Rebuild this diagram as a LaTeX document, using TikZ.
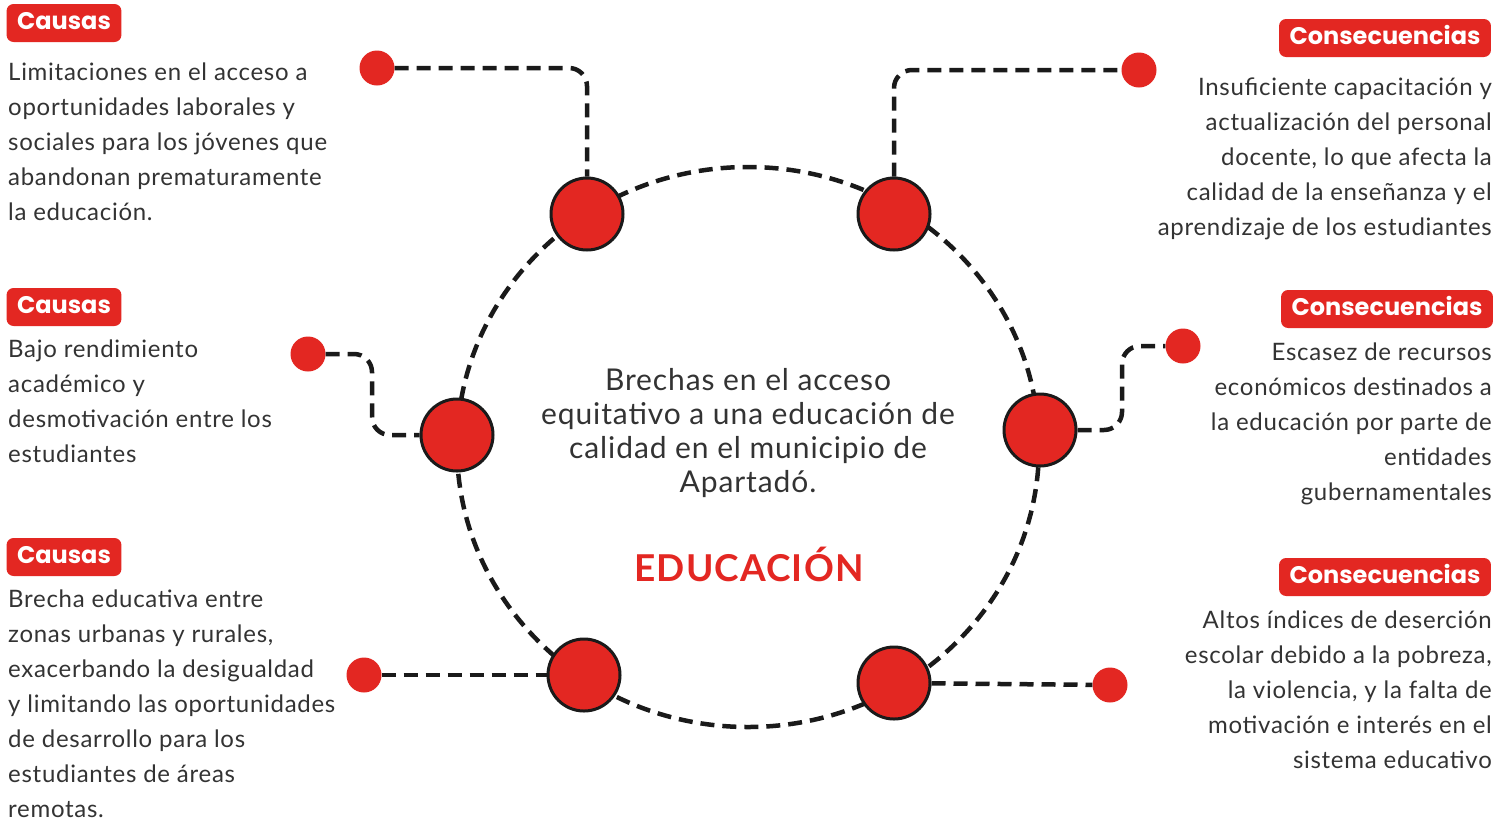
\documentclass[tikz,border=0pt]{standalone}
\usepackage{fontspec}
\setmainfont{Lato}[LetterSpace=3]
\newfontfamily\tagfont{Poppins}
\definecolor{textcol}{HTML}{333333}
\definecolor{redcol}{HTML}{E32722}
\definecolor{linecol}{HTML}{1A1A1A}

\tikzset{
	hub/.style={circle,fill=redcol,draw=linecol,line width=3pt,minimum size=72pt,inner sep=0pt},
	dot/.style={circle,fill=redcol,minimum size=35pt,inner sep=0pt},
	link/.style={draw=linecol,line width=4.5pt,dash pattern=on 14pt off 8pt,rounded corners=18pt},
	tag/.style={fill=redcol,rounded corners=7pt,text=white,font=\tagfont\bfseries\fontsize{24}{24}\selectfont,inner xsep=10.5pt,inner ysep=8pt,text height=17pt,text depth=5pt},
	body/.style={text=textcol,font=\fontsize{24}{35}\selectfont,inner sep=0pt},
}

\begin{document}
\begin{tikzpicture}[x=1pt,y=-1pt]
\useasboundingbox[fill=white] (0,0) rectangle (1503,820);

% ring
\coordinate (centre) at (748,447);
\draw[link] (centre) ellipse [x radius=291pt,y radius=280pt];

% hubs and end dots
\foreach \hx/\hy/\dx/\dy [count=\i] in {
	587/214/377/68,
	894/214/1139/70,
	457/435/308/354,
	1040/430/1183/346,
	584/675/364/675,
	894/683/1110/685%
	}{
	\node[hub] (hub\i) at (\hx,\hy) {};
	\node[dot] (dot\i) at (\dx,\dy) {};
	}

% links
\coordinate (bend3) at (372,395);
\coordinate (bend4) at (1122,388);
\draw[link] (dot1) -| (hub1);
\draw[link] (hub2) |- (dot2);
\draw[link] (dot3) -| (bend3) |- (hub3);
\draw[link] (hub4) -| (bend4) |- (dot4);
\draw[link] (dot5) -- (hub5);
\draw[link] (hub6) -- (dot6);

% tags
\node[tag] (tagC1) at (64,23) {Causas};
\node[tag] (tagC2) at (64,307) {Causas};
\node[tag] (tagC3) at (64,557) {Causas};
\node[tag] (tagK1) at (1385,38) {Consecuencias};
\node[tag] (tagK2) at (1387,309) {Consecuencias};
\node[tag] (tagK3) at (1385,577) {Consecuencias};

% causes
\foreach \txt [count=\i] in {Limitaciones en el acceso a,oportunidades laborales y,sociales para los jóvenes que,abandonan prematuramente,la educación.}
	\node[body,anchor=base west] (causeA\i) at (8,{80+35*(\i-1)}) {\txt};
\foreach \txt [count=\i] in {Bajo rendimiento,académico y,desmotivación entre los,estudiantes}
	\node[body,anchor=base west] (causeB\i) at (8,{357+35*(\i-1)}) {\txt};
\foreach \txt [count=\i] in {Brecha educativa entre,{zonas urbanas y rurales,},exacerbando la desigualdad,y limitando las oportunidades,de desarrollo para los,estudiantes de áreas,remotas.}
	\node[body,anchor=base west] (causeC\i) at (8,{607+35*(\i-1)}) {\txt};

% consequences
\foreach \txt [count=\i] in {Insuficiente capacitación y,actualización del personal,{docente, lo que afecta la},calidad de la enseñanza y el,aprendizaje de los estudiantes}
	\node[body,anchor=base east] (consA\i) at (1492,{95+35*(\i-1)}) {\txt};
\foreach \txt [count=\i] in {Escasez de recursos,económicos destinados a,la educación por parte de,entidades,gubernamentales}
	\node[body,anchor=base east] (consB\i) at (1492,{360+35*(\i-1)}) {\txt};
\foreach \txt [count=\i] in {Altos índices de deserción,{escolar debido a la pobreza,},{la violencia, y la falta de},motivación e interés en el,sistema educativo}
	\node[body,anchor=base east] (consC\i) at (1492,{628+35*(\i-1)}) {\txt};

% centre
\foreach \txt [count=\i] in {Brechas en el acceso,equitativo a una educación de,calidad en el municipio de,Apartadó.}
	\node[text=textcol,font=\fontsize{30}{34}\selectfont,inner sep=0pt,anchor=base] (theme\i) at (748,{390+34*(\i-1)}) {\txt};
\node[text=redcol,font=\bfseries\fontsize{37}{37}\selectfont,inner sep=0pt,anchor=base] (title) at (749,581) {EDUCACIÓN};
\end{tikzpicture}
\end{document}
